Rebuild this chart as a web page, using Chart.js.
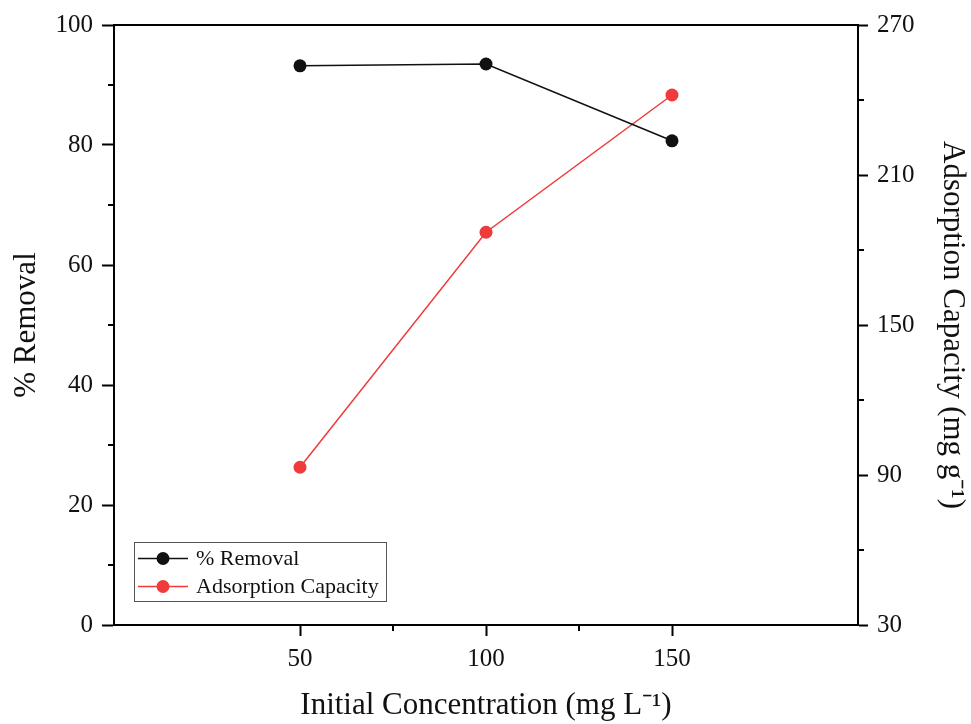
<!DOCTYPE html>
<html>
<head>
<meta charset="utf-8">
<script src="https://cdn.jsdelivr.net/npm/chart.js@4/dist/chart.umd.min.js"></script>
<style>
html,body{margin:0;padding:0;background:#fff;}
#wrap{width:971px;height:724px;position:relative;}
</style>
</head>
<body>
<div id="wrap"><canvas id="c" width="971" height="724"></canvas></div>
<script>
// ---- data ----
const concentrations = [50, 100, 150];
const removalPct = [93.2, 93.5, 80.7];
const adsorptionCapacity = [93.1, 187.1, 242.0];

const xTicks = [50, 100, 150];
const xMinorTicks = [75, 125];
const leftTicks = [0, 20, 40, 60, 80, 100];
const leftMinorTicks = [10, 30, 50, 70, 90];
const rightTicks = [30, 90, 150, 210, 270];
const rightMinorTicks = [60, 120, 180, 240];

const seriesNames = ['% Removal', 'Adsorption Capacity'];
const xTitle = 'Initial Concentration (mg L\u207B\u00B9)';
const leftTitle = '% Removal';
const rightTitle = 'Adsorption Capacity (mg g\u207B\u00B9)';

const FONT = '"Liberation Serif", "Times New Roman", serif';
const BLACK = '#111111';
const RED = '#ef3b3b';

function pts(xs, ys){ return xs.map((x,i)=>({x:x, y:ys[i]})); }

const framePlugin = {
  id: 'frame',
  afterDraw(chart){
    const {ctx, chartArea:a, scales} = chart;
    ctx.save();
    ctx.strokeStyle = '#000';
    ctx.lineWidth = 2;
    ctx.strokeRect(a.left, a.top, a.right - a.left, a.bottom - a.top);
    // minor ticks
    const ml = 6;
    ctx.beginPath();
    xMinorTicks.forEach(v=>{ const px = scales.x.getPixelForValue(v); ctx.moveTo(px, a.bottom); ctx.lineTo(px, a.bottom + ml); });
    leftMinorTicks.forEach(v=>{ const py = scales.y.getPixelForValue(v); ctx.moveTo(a.left, py); ctx.lineTo(a.left - ml, py); });
    rightMinorTicks.forEach(v=>{ const py = scales.y2.getPixelForValue(v); ctx.moveTo(a.right, py); ctx.lineTo(a.right + ml, py); });
    ctx.stroke();
    ctx.restore();
  }
};

const legendPlugin = {
  id: 'boxLegend',
  afterDraw(chart){
    const {ctx} = chart;
    const bx = 134, by = 542, bw = 252, bh = 59;
    ctx.save();
    ctx.fillStyle = '#fff';
    ctx.fillRect(bx, by, bw, bh);
    ctx.strokeStyle = '#555';
    ctx.lineWidth = 1;
    ctx.strokeRect(bx + 0.5, by + 0.5, bw, bh);
    ctx.font = '22px ' + FONT;
    ctx.textBaseline = 'middle';
    chart.data.datasets.forEach((ds, i)=>{
      const cy = 558.5 + i * 28;
      ctx.strokeStyle = ds.borderColor;
      ctx.lineWidth = 1.5;
      ctx.beginPath(); ctx.moveTo(138, cy); ctx.lineTo(188, cy); ctx.stroke();
      ctx.fillStyle = ds.pointBackgroundColor;
      ctx.beginPath(); ctx.arc(163, cy, 6.5, 0, Math.PI*2); ctx.fill();
      ctx.fillStyle = '#111';
      ctx.fillText(ds.label, 196, cy + 1);
    });
    ctx.restore();
  }
};

new Chart(document.getElementById('c'), {
  type: 'line',
  data: {
    datasets: [
      { label: seriesNames[0], data: pts(concentrations, removalPct), yAxisID: 'y',
        borderColor: BLACK, backgroundColor: BLACK, pointBackgroundColor: BLACK, pointBorderColor: BLACK,
        borderWidth: 1.5, pointRadius: 6.5, pointBorderWidth: 0, tension: 0 },
      { label: seriesNames[1], data: pts(concentrations, adsorptionCapacity), yAxisID: 'y2',
        borderColor: RED, backgroundColor: RED, pointBackgroundColor: RED, pointBorderColor: RED,
        borderWidth: 1.5, pointRadius: 6.5, pointBorderWidth: 0, tension: 0 }
    ]
  },
  options: {
    responsive: false,
    animation: false,
    layout: { padding: { left: 0, right: 0, top: 25, bottom: 0 } },
    plugins: { legend: { display: false }, tooltip: { enabled: false } },
    scales: {
      x: {
        type: 'linear', position: 'bottom', min: 0, max: 200,
        afterBuildTicks(s){ s.ticks = xTicks.map(v=>({value:v})); },
        afterFit(s){ s.height = 99; },
        grid: { display: true, drawOnChartArea: false, drawTicks: true, tickLength: 11, tickWidth: 2, tickColor: '#000' },
        border: { display: true, color: '#000', width: 2 },
        ticks: { color: '#111', padding: 8, maxRotation: 0, font: { family: FONT, size: 25 } },
        title: { display: true, text: xTitle, color: '#111', padding: { top: 0, bottom: 0 }, font: { family: FONT, size: 31 } }
      },
      y: {
        type: 'linear', position: 'left', min: 0, max: 100,
        afterBuildTicks(s){ s.ticks = leftTicks.map(v=>({value:v})); },
        afterFit(s){ s.width = 114; },
        grid: { display: true, drawOnChartArea: false, drawTicks: true, tickLength: 12, tickWidth: 2, tickColor: '#000' },
        border: { display: true, color: '#000', width: 2 },
        ticks: { color: '#111', padding: 9, font: { family: FONT, size: 25 } },
        title: { display: true, text: leftTitle, color: '#111', padding: { top: 8, bottom: 0 }, font: { family: FONT, size: 31 } }
      },
      y2: {
        type: 'linear', position: 'right', min: 30, max: 270,
        afterBuildTicks(s){ s.ticks = rightTicks.map(v=>({value:v})); },
        afterFit(s){ s.width = 113; },
        grid: { display: true, drawOnChartArea: false, drawTicks: true, tickLength: 10, tickWidth: 2, tickColor: '#000' },
        border: { display: true, color: '#000', width: 2 },
        ticks: { color: '#111', padding: 9, font: { family: FONT, size: 25 } },
        title: { display: true, text: rightTitle, color: '#111', padding: { top: 0, bottom: 0 }, font: { family: FONT, size: 31 } }
      }
    }
  },
  plugins: [framePlugin, legendPlugin]
});
</script>
</body>
</html>
